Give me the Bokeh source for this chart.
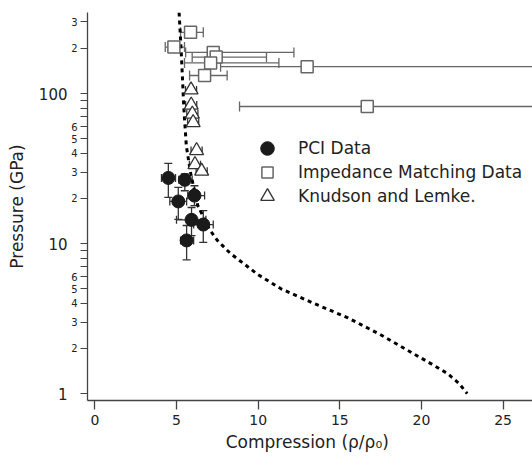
from bokeh.plotting import figure
from bokeh.models import (ColumnDataSource, Whisker, TeeHead, FixedTicker, Range1d,
                          Legend, LegendItem, LogAxis)
from bokeh.embed import file_html
from bokeh.resources import INLINE

# ---- data ----
curve_x = [5.16, 5.3, 5.45, 5.6, 5.85, 6.3, 7.0, 7.5, 8.3, 10.0, 11.4, 13.4, 15.5, 17.5, 19.5, 20.6, 21.6, 22.3, 22.8]
curve_p = [347, 180, 80, 45, 30, 18, 12.5, 10.5, 8.6, 6.2, 5.0, 4.0, 3.2, 2.47, 1.85, 1.58, 1.36, 1.17, 1.0]

pci_x = [4.50, 5.51, 5.11, 6.10, 5.92, 6.64, 5.62]
pci_p = [27.4, 26.6, 19.1, 20.9, 14.4, 13.4, 10.5]
pci_x_lo = [4.08, 5.14, 4.59, 5.69, 5.00, 6.05, 5.25]
pci_x_hi = [4.94, 5.96, 5.62, 6.72, 6.80, 7.25, 6.05]
pci_p_lo = [20.3, 22.5, 14.5, 17.9, 11.3, 10.2, 7.8]
pci_p_hi = [34.3, 29.2, 23.7, 24.3, 17.4, 16.6, 13.2]

imp_x = [5.86, 4.84, 7.25, 7.43, 7.09, 13.0, 6.72, 16.68]
imp_p = [256, 204, 188, 175, 160, 151, 132, 82]
imp_x_lo = [5.25, 4.31, 5.56, 5.96, 5.49, 7.70, 5.80, 8.86]
imp_x_hi = [6.64, 5.49, 12.19, 10.51, 11.27, 40.0, 8.10, 40.0]

kl_x = [5.89, 5.90, 5.97, 6.02, 6.23, 6.13, 6.54]
kl_p = [105.8, 83.8, 73.0, 64.1, 41.7, 33.6, 30.4]
kl_x_lo = [5.55, 5.56, 5.63, 5.68, 5.89, 5.79, 6.20]
kl_x_hi = [6.23, 6.24, 6.31, 6.36, 6.57, 6.47, 6.88]

x_ticks = [0, 5, 10, 15, 20, 25]
y_major = [1, 10, 100]
y_major_text = ["1", "10", "100"]
y_small = [2, 3, 4, 5, 6, 20, 30, 40, 50, 60, 200, 300]
y_small_text = ["2", "3", "4", "5", "6", "2", "3", "4", "5", "6", "2", "3"]
y_minor = [7, 8, 9, 70, 80, 90]

legend_labels = ["PCI Data", "Impedance Matching Data", "Knudson and Lemke."]

FONT = "DejaVu Sans"
TXT = "#222222"
AX = "#444444"

p = figure(width=532, height=459, x_range=Range1d(-0.45, 26.8), y_range=Range1d(0.9, 347),
           y_axis_type="log", output_backend="svg", toolbar_location=None,
           min_border_left=87, min_border_right=0, min_border_top=12, min_border_bottom=59)
p.outline_line_color = None
p.grid.visible = False

# x axis
xa = p.xaxis[0]
xa.ticker = FixedTicker(ticks=x_ticks, minor_ticks=[])
xa.axis_line_color = AX
xa.axis_line_width = 1.3
xa.major_tick_line_color = AX
xa.major_tick_line_width = 1.3
xa.major_tick_out = 9
xa.major_tick_in = 0
xa.minor_tick_line_color = None
xa.major_label_text_font = FONT
xa.major_label_text_font_size = "14px"
xa.major_label_text_color = TXT
xa.major_label_standoff = 5
xa.axis_label = "Compression  (ρ/ρ₀)"
xa.axis_label_text_font = FONT
xa.axis_label_text_font_style = "normal"
xa.axis_label_text_font_size = "17px"
xa.axis_label_text_color = TXT
xa.axis_label_standoff = 4

# inner y axis: all ticks, small labels
ya = p.yaxis[0]
ya.ticker = FixedTicker(ticks=y_major + y_small, minor_ticks=y_minor)
overrides = {t: "" for t in y_major}
overrides.update({t: s for t, s in zip(y_small, y_small_text)})
ya.major_label_overrides = overrides
ya.axis_line_color = AX
ya.axis_line_width = 1.3
ya.major_tick_line_color = AX
ya.minor_tick_line_color = AX
ya.major_tick_out = 7
ya.major_tick_in = 0
ya.minor_tick_out = 7
ya.minor_tick_in = 0
ya.major_label_text_font = FONT
ya.major_label_text_font_size = "10px"
ya.major_label_text_color = TXT
ya.major_label_standoff = 3

# outer y axis: decade labels in a bigger font, plus the axis title
yb = LogAxis(ticker=FixedTicker(ticks=y_major, minor_ticks=[]),
             major_label_overrides={t: s for t, s in zip(y_major, y_major_text)})
yb.axis_line_color = None
yb.major_tick_line_color = None
yb.minor_tick_line_color = None
yb.major_tick_out = 0
yb.major_tick_in = 0
yb.major_label_standoff = 1
yb.major_label_text_font = FONT
yb.major_label_text_font_size = "15px"
yb.major_label_text_color = TXT
yb.axis_label = "Pressure (GPa)"
yb.axis_label_text_font = FONT
yb.axis_label_text_font_style = "normal"
yb.axis_label_text_font_size = "17px"
yb.axis_label_text_color = TXT
yb.axis_label_standoff = 9
p.add_layout(yb, "left")

# theory curve
p.line(curve_x, curve_p, line_color="black", line_width=3, line_dash="4 4")

# error bars
pci_src = ColumnDataSource(dict(x=pci_x, p=pci_p, xl=pci_x_lo, xh=pci_x_hi, pl=pci_p_lo, ph=pci_p_hi))
imp_src = ColumnDataSource(dict(x=imp_x, p=imp_p, xl=imp_x_lo, xh=imp_x_hi))
kl_src = ColumnDataSource(dict(x=kl_x, p=kl_p, xl=kl_x_lo, xh=kl_x_hi))

def whisk(src, base, lo, hi, dim, color, cap):
    w = Whisker(source=src, base=base, lower=lo, upper=hi, dimension=dim,
                line_color=color, line_width=1.3,
                lower_head=TeeHead(size=cap, line_color=color, line_width=1.3),
                upper_head=TeeHead(size=cap, line_color=color, line_width=1.3),
                level="underlay")
    p.add_layout(w)

whisk(imp_src, "p", "xl", "xh", "width", "#666666", 10)
whisk(kl_src, "p", "xl", "xh", "width", "#333333", 8)
whisk(pci_src, "p", "xl", "xh", "width", "#333333", 8)
whisk(pci_src, "x", "pl", "ph", "height", "#333333", 8)

r_imp = p.scatter("x", "p", source=imp_src, marker="square", size=12, fill_color="white",
                  line_color="#666666", line_width=1.5)
r_kl = p.scatter("x", "p", source=kl_src, marker="triangle", size=14, fill_color="white",
                 line_color="#333333", line_width=1.3)
r_pci = p.scatter("x", "p", source=pci_src, marker="circle", size=13, fill_color="#1a1a1a",
                  line_color="#1a1a1a")

# one legend per entry so the glyph size and the row pitch can be set independently
for label, rend, box, loc in [(legend_labels[0], r_pci, 34, (163, 235)),
                              (legend_labels[1], r_imp, 28, (166, 214)),
                              (legend_labels[2], r_kl, 34, (163, 187))]:
    lg = Legend(items=[LegendItem(label=label, renderers=[rend])], location=loc,
                border_line_color=None, background_fill_alpha=0, padding=0, margin=0,
                spacing=0, glyph_height=box, glyph_width=box, label_height=20,
                label_standoff=298 - 87 - loc[0] - box, label_text_font=FONT,
                label_text_font_size="17px", label_text_color=TXT,
                label_text_baseline="middle")
    p.add_layout(lg)

open("out.html", "w").write(file_html(p, INLINE))
